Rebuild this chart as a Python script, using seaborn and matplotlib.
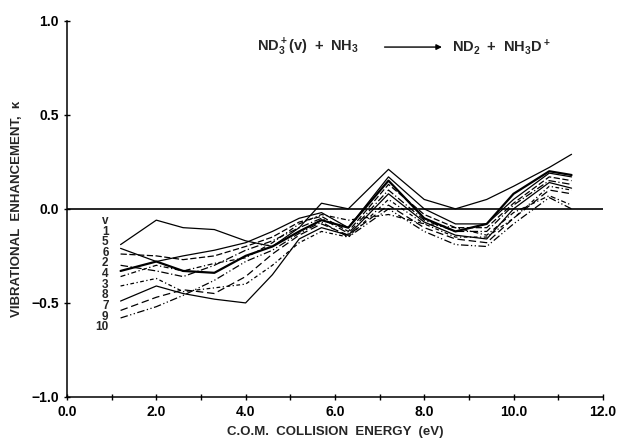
import numpy as np
import pandas as pd
import matplotlib
matplotlib.use("Agg")
import matplotlib.pyplot as plt
import seaborn as sns

# collision energy grid (eV) shared by all curves
energy = [1.2, 2.0, 2.6, 3.3, 4.0, 4.6, 5.2, 5.7, 6.3, 7.2, 8.0, 8.7, 9.4, 10.0, 10.8, 11.3]

# vibrational enhancement per vibrational level v
k_v1 = [-0.19, -0.06, -0.10, -0.11, -0.17, -0.20, -0.10, 0.03, 0.00, 0.21, 0.05, 0.00, 0.05, 0.12, 0.22, 0.29]
k_v5 = [-0.21, -0.28, -0.25, -0.22, -0.18, -0.12, -0.05, -0.02, -0.10, 0.17, 0.00, -0.08, -0.08, 0.05, 0.19, 0.17]
k_v6 = [-0.24, -0.25, -0.27, -0.25, -0.20, -0.15, -0.07, -0.04, -0.12, 0.13, -0.03, -0.10, -0.10, 0.03, 0.17, 0.15]
k_v2 = [-0.33, -0.28, -0.33, -0.34, -0.25, -0.20, -0.12, -0.06, -0.10, 0.15, -0.05, -0.12, -0.08, 0.08, 0.20, 0.18]
k_v4 = [-0.30, -0.33, -0.36, -0.30, -0.22, -0.17, -0.10, -0.05, -0.13, 0.10, -0.06, -0.12, -0.12, 0.02, 0.15, 0.13]
k_v3 = [-0.41, -0.37, -0.44, -0.42, -0.40, -0.30, -0.18, -0.12, -0.15, 0.05, -0.08, -0.15, -0.15, -0.05, 0.12, 0.10]
k_v8 = [-0.49, -0.41, -0.45, -0.48, -0.50, -0.35, -0.16, -0.10, -0.14, 0.08, -0.07, -0.14, -0.16, 0.00, 0.14, 0.11]
k_v7 = [-0.54, -0.47, -0.43, -0.45, -0.36, -0.24, -0.14, -0.08, -0.14, 0.02, -0.10, -0.16, -0.18, -0.05, 0.10, 0.08]
k_v9 = [-0.58, -0.52, -0.46, -0.38, -0.28, -0.22, -0.13, -0.07, -0.15, 0.00, -0.12, -0.19, -0.20, -0.08, 0.06, 0.00]
k_v10 = [-0.36, -0.30, -0.33, -0.29, -0.26, -0.18, -0.08, -0.03, -0.06, -0.03, -0.08, -0.10, -0.14, -0.02, 0.07, 0.02]

curves = {"1": k_v1, "5": k_v5, "6": k_v6, "2": k_v2, "4": k_v4,
          "3": k_v3, "8": k_v8, "7": k_v7, "9": k_v9, "10": k_v10}
label_order = ["v", "1", "5", "6", "2", "4", "3", "8", "7", "9", "10"]

styles = {"1": ("-", 0.9), "5": ("-", 0.9), "6": ((0, (5, 2)), 0.9),
          "2": ("-", 1.6), "4": ((0, (6, 2, 1, 2)), 0.9), "3": ((0, (3, 2, 1, 2)), 0.9),
          "8": ("-", 0.9), "7": ((0, (6, 3)), 0.9), "9": ((0, (6, 2, 1, 2, 1, 2)), 0.9),
          "10": ((0, (4, 2, 1, 2)), 0.9)}

df = pd.DataFrame([(v, e, k) for v, ys in curves.items() for e, k in zip(energy, ys)],
                  columns=["v", "energy", "kappa"])

sns.set_style("ticks")
plt.rcParams['font.family'] = ['Liberation Sans', 'DejaVu Sans']
plt.rcParams['mathtext.fontset'] = 'custom'
plt.rcParams['mathtext.bf'] = 'Liberation Sans:bold'
plt.rcParams['mathtext.rm'] = 'Liberation Sans:bold'

fig = plt.figure(figsize=(6.17, 4.41), dpi=100)
ax = fig.add_axes([0.1086, 0.0998, 0.8684, 0.8532])

for v, ys in curves.items():
    ls, lw = styles[v]
    sns.lineplot(data=df[df["v"] == v], x="energy", y="kappa", ax=ax,
                 color="black", linestyle=ls, linewidth=lw, estimator=None, sort=False)

ax.axhline(0, color="black", linewidth=1.2)

ax.set_xlim(0, 12)
ax.set_ylim(-1, 1)
ax.set_xticks(np.arange(0, 12.1, 2))
ax.set_xticks(np.arange(1, 12, 2), minor=True)
ax.set_yticks([-1.0, -0.5, 0.0, 0.5, 1.0])
ax.set_xticklabels([f"{t:.1f}" for t in np.arange(0, 12.1, 2)])
ax.set_yticklabels(["\u22121.0", "\u22120.5", "0.0", "0.5", "1.0"])
ax.tick_params(axis="both", which="both", direction="inout", length=5, width=1,
               labelsize=10, colors="black")
ax.tick_params(axis="x", which="minor", length=4)
for lab in ax.get_xticklabels() + ax.get_yticklabels():
    lab.set_fontweight("bold")
sns.despine(ax=ax)
for sp in ("left", "bottom"):
    ax.spines[sp].set_linewidth(1.1)
    ax.spines[sp].set_color("black")

ax.set_xlabel("C.O.M.  COLLISION  ENERGY  (eV)", fontsize=9.5, fontweight="bold", labelpad=5)
ax.set_ylabel("VIBRATIONAL  ENHANCEMENT,  \u03ba", fontsize=9.5, fontweight="bold", labelpad=6)

# v labels next to the curve starts (tightly stacked as in the original)
for i, lab in enumerate(label_order):
    ax.text(0.93, -0.064 - 0.0565 * i, lab, ha="right", va="center",
            fontsize=8.5, fontweight="bold")

# reaction equation
ax.text(4.25, 0.86, r"$\mathbf{ND_3^+(v)\ +\ NH_3}$", ha="left", va="center", fontsize=10.5)
ax.annotate("", xy=(8.46, 0.86), xytext=(7.05, 0.86),
            arrowprops=dict(arrowstyle="-|>", color="black", lw=1, mutation_scale=8))
ax.text(8.62, 0.86, r"$\mathbf{ND_2\ +\ NH_3D^+}$", ha="left", va="center", fontsize=10.5)

fig.savefig("out.png", dpi=100)
